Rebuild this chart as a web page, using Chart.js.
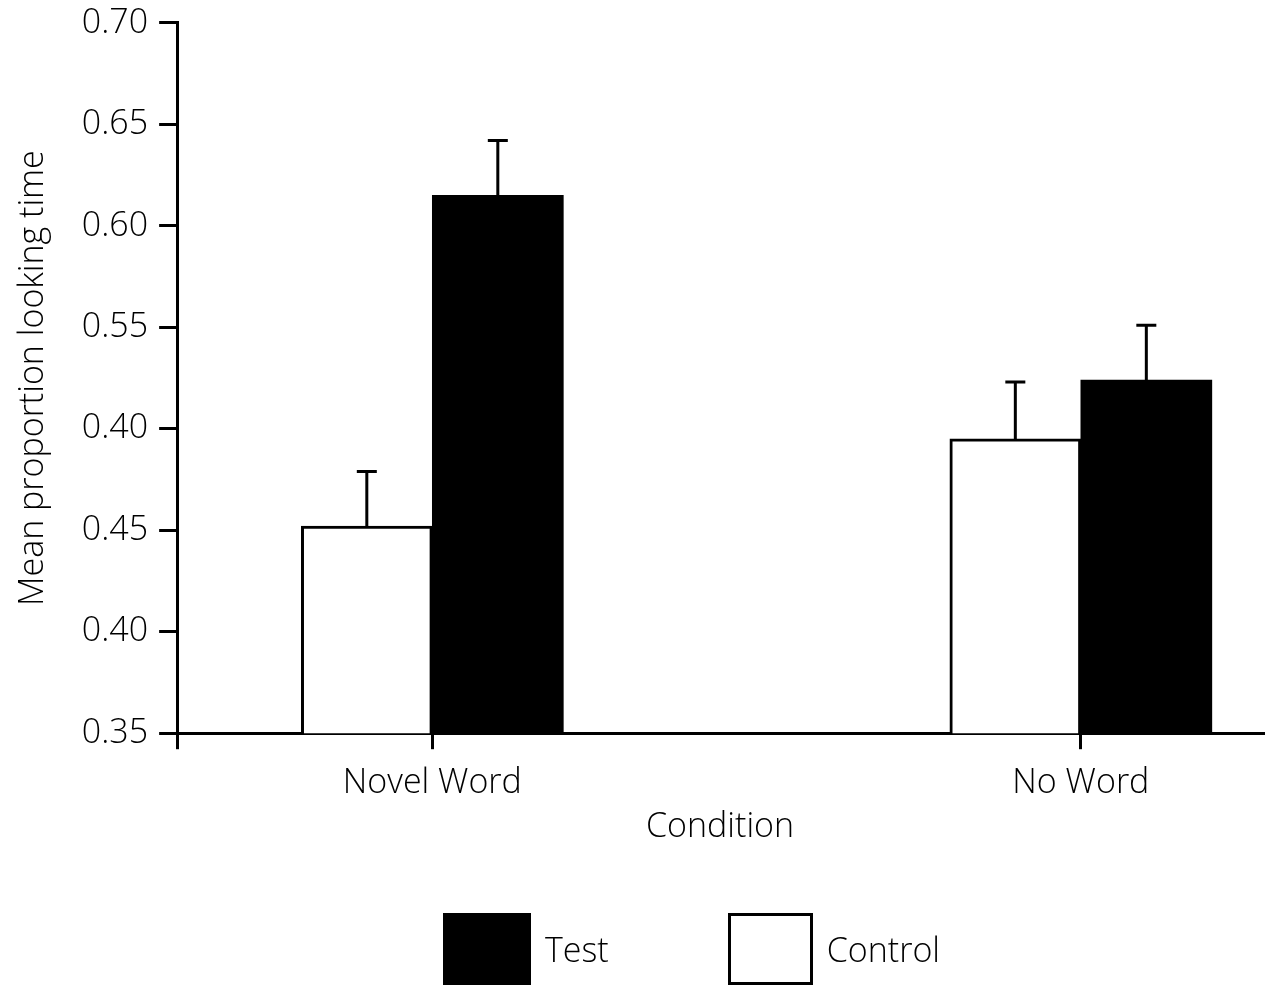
<!DOCTYPE html>
<html>
<head>
<meta charset="utf-8">
<script src="https://cdn.jsdelivr.net/npm/chart.js@4"></script>
<style>
  html, body { margin: 0; padding: 0; background: #fff; }
  #wrap { position: relative; width: 1270px; height: 987px; }
  #legend { position: absolute; left: 443px; top: 913px; display: flex; align-items: center;
            font-family: "Open Sans", sans-serif; font-weight: 350; font-size: 34px; color: #000; }
  .item { display: flex; align-items: center; }
  .box { height: 72px; box-sizing: border-box; }
  .txt { margin-left: 14px; line-height: 72px; }
</style>
</head>
<body>
<div id="wrap">
  <canvas id="c" width="1270" height="987"></canvas>
  <div id="legend"></div>
</div>
<script>
const categories = ['Novel Word', 'No Word'];
const seriesNames = ['Control', 'Test'];
const controlMeans = [0.452, 0.495];
const controlErrors = [0.027, 0.028];
const testMeans = [0.615, 0.524];
const testErrors = [0.027, 0.027];
const yTickValues = [0.35, 0.40, 0.45, 0.50, 0.55, 0.60, 0.65, 0.70];
const yTickLabels = ['0.35', '0.40', '0.45', '0.40', '0.55', '0.60', '0.65', '0.70'];
const xTitle = 'Condition';
const yTitle = 'Mean proportion looking time';

const FONT = '"Open Sans", sans-serif';
const W = 350;
const errorSets = [controlErrors, testErrors];

const errorBars = {
  id: 'errorBars',
  afterDatasetsDraw(chart) {
    const ctx = chart.ctx;
    const yScale = chart.scales.y;
    ctx.save();
    ctx.strokeStyle = '#000';
    ctx.lineWidth = 3;
    chart.data.datasets.forEach((ds, di) => {
      const meta = chart.getDatasetMeta(di);
      meta.data.forEach((el, i) => {
        const v = ds.data[i].y;
        const yTop = yScale.getPixelForValue(v);
        const yErr = yScale.getPixelForValue(v + errorSets[di][i]);
        ctx.beginPath();
        ctx.moveTo(el.x, yTop);
        ctx.lineTo(el.x, yErr);
        ctx.moveTo(el.x - 10, yErr);
        ctx.lineTo(el.x + 10, yErr);
        ctx.stroke();
      });
    });
    ctx.restore();
  }
};

const chart = new Chart(document.getElementById('c'), {
  type: 'bar',
  data: {
    datasets: [
      {
        label: seriesNames[0],
        data: categories.map((c, i) => ({ x: i + 1, y: controlMeans[i] })),
        backgroundColor: '#fff',
        borderColor: '#000',
        borderWidth: 3,
        barThickness: 131
      },
      {
        label: seriesNames[1],
        data: categories.map((c, i) => ({ x: i + 1, y: testMeans[i] })),
        backgroundColor: '#000',
        borderColor: '#000',
        borderWidth: 0,
        barThickness: 131
      }
    ]
  },
  options: {
    responsive: false,
    animation: false,
    layout: { padding: { top: 0, left: 13, right: 7, bottom: 139 } },
    plugins: { legend: { display: false }, tooltip: { enabled: false } },
    scales: {
      x: {
        type: 'linear',
        offset: false,
        min: 0.6065,
        max: 2.2809,
        afterBuildTicks(scale) {
          scale.ticks = [{ value: scale.min }].concat(categories.map((c, i) => ({ value: i + 1 })));
        },
        ticks: {
          autoSkip: false,
          maxRotation: 0,
          padding: 17,
          color: '#000',
          font: { family: FONT, size: 34, weight: W, lineHeight: 1.0 },
          callback: (v, idx) => (idx === 0 ? '' : categories[idx - 1])
        },
        grid: { display: true, drawOnChartArea: false, drawTicks: true, tickLength: 16, color: '#000', lineWidth: 3, offset: false },
        border: { display: true, color: '#000', width: 3 },
        title: { display: true, text: xTitle, color: '#000', font: { family: FONT, size: 34, weight: W }, padding: { top: -10, bottom: 0 } }
      },
      y: {
        min: 0.35,
        max: 0.70,
        afterBuildTicks(scale) {
          scale.ticks = yTickValues.map(v => ({ value: v }));
        },
        ticks: {
          autoSkip: false,
          padding: 11,
          color: '#000',
          font: { family: FONT, size: 34, weight: W, lineHeight: 0.7 },
          callback: (v, idx) => yTickLabels[idx]
        },
        grid: { display: true, drawOnChartArea: false, drawTicks: true, tickLength: 18, color: '#000', lineWidth: 3 },
        border: { display: true, color: '#000', width: 3 },
        title: { display: true, text: yTitle, color: '#000', font: { family: FONT, size: 34, weight: W }, padding: { top: 0, bottom: 17 } }
      }
    }
  },
  plugins: [errorBars]
});

// legend built from the chart's datasets (Test first, as in the reference)
const legend = document.getElementById('legend');
chart.data.datasets.slice().reverse().forEach((ds, k) => {
  const item = document.createElement('div');
  item.className = 'item';
  if (k > 0) item.style.marginLeft = '119px';
  const box = document.createElement('div');
  box.className = 'box';
  box.style.width = k === 0 ? '88px' : '85px';
  box.style.background = ds.backgroundColor;
  box.style.border = '3px solid #000';
  const txt = document.createElement('span');
  txt.className = 'txt';
  txt.textContent = ds.label;
  item.appendChild(box);
  item.appendChild(txt);
  legend.appendChild(item);
});
</script>
</body>
</html>
